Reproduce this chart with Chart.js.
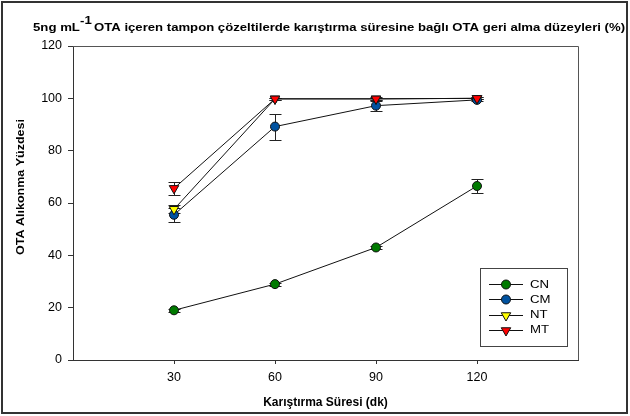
<!DOCTYPE html>
<html>
<head>
<meta charset="utf-8">
<script src="https://cdn.jsdelivr.net/npm/chart.js@4.4.1/dist/chart.umd.min.js"></script>
<style>
  body { margin: 0; background: #fff; }
</style>
</head>
<body>
<canvas id="myChart" width="630" height="416"></canvas>
<script>
// karıştırma süresi (dk) and recovery (%) per solution
const sureler = [30, 60, 90, 120];
const xTicks = [30, 60, 90, 120];
const yTicks = [0, 20, 40, 60, 80, 100, 120];
const seriesNames = ["CN", "CM", "NT", "MT"];

const cnValues = [19, 29, 43, 66.5];
const cmValues = [55.5, 89.2, 97.2, 99.4];
const ntValues = [57.6, 99.8, 99.8, 100];
const mtValues = [65.6, 99.8, 99.8, 100];

// standard deviations for the error bars
const cnErrors = [0.6, 0.6, 0.6, 2.6];
const cmErrors = [2.7, 5, 2.2, 0.5];
const ntErrors = [1.5, 0.4, 0.4, 0.4];
const mtErrors = [2.6, 0.4, 0.8, 0.4];

const FONT = "'Liberation Sans', Arial, sans-serif";
const STRETCH = 1.2; // wide text, a bit stretched sideways

function toPoints(values) {
  return sureler.map(function (t, i) {
    return { x: t, y: values[i] };
  });
}

function makeSeries(i, values, errors, color, style) {
  return {
    label: seriesNames[i],
    data: toPoints(values),
    errors: errors,
    borderColor: "#111",
    borderWidth: 1,
    pointBackgroundColor: color,
    pointBorderColor: "#111",
    pointBorderWidth: 1,
    pointStyle: style,
    pointRotation: style === "triangle" ? 180 : 0,
    pointRadius: style === "triangle" ? 5.5 : 4.5,
    tension: 0,
    order: 3 - i,
  };
}

// text drawn with a horizontal stretch, x is the left edge
function wideText(ctx, text, x, y, sx) {
  ctx.save();
  ctx.translate(x, y);
  ctx.scale(sx, 1);
  ctx.fillText(text, 0, 0);
  ctx.restore();
  return ctx.measureText(text).width * sx;
}

// error bars sit under the markers
const errorBars = {
  id: "errorBars",
  beforeDatasetsDraw(chart) {
    const ctx = chart.ctx;
    const xs = chart.scales.x;
    const ys = chart.scales.y;
    ctx.save();
    ctx.strokeStyle = "#222";
    ctx.lineWidth = 1;
    chart.data.datasets.forEach(function (ds) {
      ds.data.forEach(function (p, j) {
        const e = ds.errors[j];
        const x = Math.round(xs.getPixelForValue(p.x)) + 0.5;
        const y1 = Math.round(ys.getPixelForValue(p.y + e)) + 0.5;
        const y2 = Math.round(ys.getPixelForValue(p.y - e)) + 0.5;
        ctx.beginPath();
        ctx.moveTo(x, y1);
        ctx.lineTo(x, y2);
        ctx.moveTo(x - 6, y1);
        ctx.lineTo(x + 6, y1);
        ctx.moveTo(x - 6, y2);
        ctx.lineTo(x + 6, y2);
        ctx.stroke();
      });
    });
    ctx.restore();
  },
};

// plot box, outer frame, titles and the legend
const decorations = {
  id: "decorations",
  beforeDatasetsDraw(chart) {
    const ctx = chart.ctx;
    const a = chart.chartArea;
    ctx.save();
    ctx.strokeStyle = "#555";
    ctx.lineWidth = 1;
    ctx.beginPath();
    ctx.moveTo(a.left, Math.round(a.top) + 0.5);
    ctx.lineTo(Math.round(a.right) + 0.5, Math.round(a.top) + 0.5);
    ctx.lineTo(Math.round(a.right) + 0.5, a.bottom);
    ctx.stroke();
    ctx.restore();
  },
  afterDraw(chart) {
    const ctx = chart.ctx;
    ctx.save();

    // outer frame
    ctx.strokeStyle = "#333";
    ctx.lineWidth = 2;
    ctx.strokeRect(2, 2, 625, 411);

    // title with superscript
    ctx.fillStyle = "#000";
    ctx.textBaseline = "alphabetic";
    ctx.textAlign = "left";
    ctx.font = "bold 11px " + FONT;
    wideText(ctx, "5ng mL", 33, 31, STRETCH);
    wideText(ctx, "-1", 80, 24, STRETCH);
    const rest = "OTA içeren tampon çözeltilerde karıştırma süresine bağlı OTA geri alma düzeyleri (%)";
    wideText(ctx, rest, 94, 31, 531 / ctx.measureText(rest).width);

    // y axis title
    ctx.save();
    ctx.translate(21, 187);
    ctx.rotate(-Math.PI / 2);
    ctx.textBaseline = "middle";
    ctx.font = "bold 10px " + FONT;
    const yTitle = "OTA Alıkonma Yüzdesi";
    const yw = ctx.measureText(yTitle).width * 1.25;
    wideText(ctx, yTitle, -yw / 2, 0, 1.25);
    ctx.restore();

    // legend
    ctx.fillStyle = "#fff";
    ctx.fillRect(480, 268, 87, 78);
    ctx.strokeStyle = "#444";
    ctx.lineWidth = 1;
    ctx.strokeRect(480.5, 268.5, 87, 78);
    chart.data.datasets.forEach(function (ds, i) {
      const y = 284 + i * 15.3;
      ctx.strokeStyle = "#111";
      ctx.beginPath();
      ctx.moveTo(489, Math.round(y) + 0.5);
      ctx.lineTo(523, Math.round(y) + 0.5);
      ctx.stroke();
      ctx.fillStyle = ds.pointBackgroundColor;
      ctx.strokeStyle = "#111";
      Chart.helpers.drawPoint(ctx, {
        pointStyle: ds.pointStyle,
        rotation: ds.pointRotation,
        radius: ds.pointRadius,
        borderWidth: 1,
      }, 506, Math.round(y) + 0.5);
      ctx.fillStyle = "#000";
      ctx.font = "11px " + FONT;
      ctx.textBaseline = "middle";
      wideText(ctx, ds.label, 530, y + 0.5, STRETCH);
    });

    ctx.restore();
  },
};

const ctx = document.getElementById("myChart").getContext("2d");
const myChart = new Chart(ctx, {
  type: "line",
  data: {
    datasets: [
      makeSeries(0, cnValues, cnErrors, "#007a00", "circle"),
      makeSeries(1, cmValues, cmErrors, "#0052a0", "circle"),
      makeSeries(2, ntValues, ntErrors, "#ffff00", "triangle"),
      makeSeries(3, mtValues, mtErrors, "#ff0000", "triangle"),
    ],
  },
  options: {
    responsive: false,
    animation: false,
    layout: { padding: { top: 46, right: 52, left: 0, bottom: 0 } },
    plugins: {
      legend: { display: false },
      tooltip: { enabled: false },
    },
    scales: {
      x: {
        type: "linear",
        min: 0,
        max: 150,
        afterBuildTicks: function (s) {
          s.ticks = xTicks.map(function (v) { return { value: v }; });
        },
        afterFit: function (s) { s.height = 56; },
        grid: { drawOnChartArea: false, tickLength: 4, color: "#333" },
        border: { color: "#333", width: 1 },
        ticks: { color: "#000", padding: 6, font: { family: FONT, size: 12.5 } },
        title: {
          display: true,
          text: "Karıştırma Süresi (dk)",
          color: "#000",
          font: { family: FONT, size: 12, weight: "bold" },
          padding: { top: 0, bottom: 6 },
        },
      },
      y: {
        min: 0,
        max: 120,
        afterBuildTicks: function (s) {
          s.ticks = yTicks.map(function (v) { return { value: v }; });
        },
        afterFit: function (s) { s.width = 73; },
        grid: { drawOnChartArea: false, tickLength: 5, color: "#333" },
        border: { color: "#333", width: 1 },
        ticks: { color: "#000", padding: 6, font: { family: FONT, size: 12.5 } },
      },
    },
  },
  plugins: [errorBars, decorations],
});
</script>
</body>
</html>
